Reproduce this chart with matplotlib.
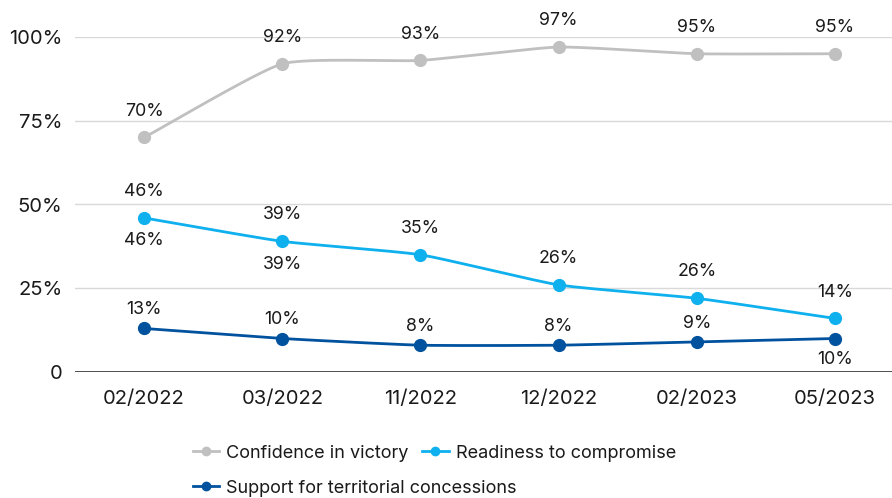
import numpy as np
import matplotlib
matplotlib.use("Agg")
import matplotlib.pyplot as plt
from matplotlib.lines import Line2D

plt.rcParams['font.family'] = ['Inter', 'DejaVu Sans']

categories = ["02/2022", "03/2022", "11/2022", "12/2022", "02/2023", "05/2023"]
confidence = [70, 92, 93, 97, 95, 95]
readiness = [46, 39, 35, 26, 22, 16]
territorial = [13, 10, 8, 8, 9, 10]

confidence_labels = ["70%", "92%", "93%", "97%", "95%", "95%"]
readiness_labels = ["46%", "39%", "35%", "26%", "26%", "14%"]
readiness_labels_below = ["46%", "39%", None, None, None, None]
territorial_labels = ["13%", "10%", "8%", "8%", "9%", None]
territorial_labels_below = [None, None, None, None, None, "10%"]

series_names = ["Confidence in victory", "Readiness to compromise",
                "Support for territorial concessions"]
colors = ["#C0C0C0", "#0FB0EE", "#00529E"]
y_ticks = [0, 25, 50, 75, 100]
y_tick_labels = ["0", "25%", "50%", "75%", "100%"]


def smooth(xs, ys, n=30, k=0.5):
    xs = np.asarray(xs, float)
    ys = np.asarray(ys, float)
    px = np.concatenate([[2 * xs[0] - xs[1]], xs, [2 * xs[-1] - xs[-2]]])
    py = np.concatenate([[2 * ys[0] - ys[1]], ys, [2 * ys[-1] - ys[-2]]])
    ox, oy = [], []
    for i in range(1, len(px) - 2):
        t = np.linspace(0, 1, n, endpoint=False)
        for arr, out in ((px, ox), (py, oy)):
            p0, p1, p2, p3 = arr[i - 1], arr[i], arr[i + 1], arr[i + 2]
            m1 = (p2 - p0) / 2 * k
            m2 = (p3 - p1) / 2 * k
            h00 = 2 * t**3 - 3 * t**2 + 1
            h10 = t**3 - 2 * t**2 + t
            h01 = -2 * t**3 + 3 * t**2
            h11 = t**3 - t**2
            out.extend(h00 * p1 + h10 * m1 + h01 * p2 + h11 * m2)
    ox.append(xs[-1])
    oy.append(ys[-1])
    return np.array(ox), np.array(oy)


fig = plt.figure(figsize=(8.92, 4.98), dpi=100)
ax = fig.add_axes([75 / 892, (498 - 372) / 498, 1 - 75 / 892, (372 - 37) / 498])

x = np.arange(len(categories))
ax.set_xlim(-0.5, 5 + (892 - 835) / 138)
ax.set_ylim(0, 100)

for yv in y_ticks[1:]:
    ax.axhline(yv, color="#D9D9D9", lw=1.0, zorder=0)
ax.axhline(0, color="#404040", lw=1.3, zorder=1)

for vals, c in zip([confidence, readiness, territorial], colors):
    sx, sy = smooth(x, vals)
    ax.plot(sx, sy, color=c, lw=2.0, zorder=3, solid_capstyle="round")
    ax.plot(x, vals, 'o', color=c, ms=8.5, zorder=4)

txt_kw = dict(ha="center", va="center", fontsize=12.8, color="#1A1A1A",
              textcoords="offset points", annotation_clip=False)


def labels(vals, labs, dy):
    for xi, v, lab in zip(x, vals, labs):
        if lab:
            ax.annotate(lab, (xi, v), xytext=(0, dy), **txt_kw)


labels(confidence, confidence_labels, 19)
labels(readiness, readiness_labels, 19)
labels(readiness, readiness_labels_below, -16.5)
labels(territorial, territorial_labels, 13.5)
labels(territorial, territorial_labels_below, -15)

ax.set_xticks(x)
ax.set_xticklabels(categories, fontsize=14.5, color="#1A1A1A")
ax.set_yticks(y_ticks)
ax.set_yticklabels(y_tick_labels, fontsize=14.5, color="#1A1A1A")
ax.tick_params(axis="both", length=0)
ax.tick_params(axis="x", pad=13)
ax.tick_params(axis="y", pad=9)
for s in ax.spines.values():
    s.set_visible(False)

handles = [Line2D([0], [0], color=c, lw=2.0, marker='o', ms=6) for c in colors]
leg_kw = dict(frameon=False, fontsize=13, handlelength=1.45, handletextpad=0.4,
              columnspacing=0.75, borderpad=0, borderaxespad=0, loc="center left",
              labelcolor="#1A1A1A")
l1 = fig.legend(handles[:2], series_names[:2], ncol=2,
                bbox_to_anchor=(193 / 892, (498 - 453) / 498), **leg_kw)
l2 = fig.legend(handles[2:], series_names[2:], ncol=1,
                bbox_to_anchor=(193 / 892, (498 - 488) / 498), **leg_kw)

fig.savefig("out.png", dpi=100)
